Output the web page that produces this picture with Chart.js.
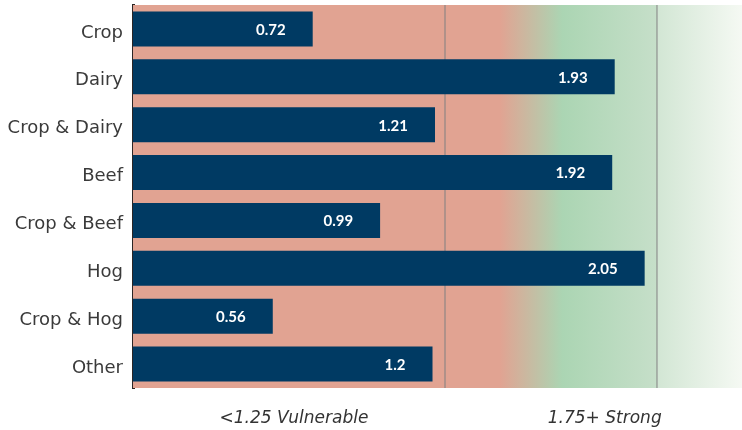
<!DOCTYPE html>
<html><head><meta charset="utf-8">
<script src="https://cdn.jsdelivr.net/npm/chart.js@4/dist/chart.umd.min.js"></script>
<style>html,body{margin:0;padding:0;background:#fff}#wrap{width:742px;height:430px;position:relative}</style>
</head><body><div id="wrap"><canvas id="c"></canvas></div>
<script>
const categories = ["Crop","Dairy","Crop & Dairy","Beef","Crop & Beef","Hog","Crop & Hog","Other"];
const values = [0.72,1.93,1.21,1.92,0.99,2.05,0.56,1.2];
const zoneLabels = ["<1.25 Vulnerable","1.75+ Strong"];
const thresholds = [1.25, 2.1];

const zoneLabelAt = [0.645, 1.89];

const bgPlugin = {
  id: 'bg',
  beforeDatasetsDraw(chart) {
    const {ctx, chartArea: a, scales: {x}} = chart;
    const px = v => x.getPixelForValue(v);
    ctx.save();
    const x2 = px(thresholds[1]);
    const w = x2 - a.left;
    const stop = v => (px(v) - a.left) / w;
    const g = ctx.createLinearGradient(a.left, 0, x2, 0);
    g.addColorStop(0, '#e1a392');
    g.addColorStop(stop(1.47), '#e1a392');
    g.addColorStop(stop(1.72), '#abd5b3');
    g.addColorStop(1, '#c6dfc9');
    ctx.fillStyle = g;
    ctx.fillRect(a.left, a.top, w, a.bottom - a.top);
    const g2 = ctx.createLinearGradient(x2, 0, a.right, 0);
    g2.addColorStop(0, '#d2e6d4');
    g2.addColorStop(1, '#f5f9f3');
    ctx.fillStyle = g2;
    ctx.fillRect(x2, a.top, a.right - x2, a.bottom - a.top);
    ctx.lineWidth = 2;
    ctx.strokeStyle = 'rgba(128,128,128,0.5)';
    thresholds.forEach(t => {
      const xx = Math.round(px(t));
      ctx.beginPath(); ctx.moveTo(xx, a.top); ctx.lineTo(xx, a.bottom); ctx.stroke();
    });
    ctx.restore();
  },
  afterDatasetsDraw(chart) {
    const {ctx} = chart;
    const meta = chart.getDatasetMeta(0);
    ctx.save();
    ctx.fillStyle = '#ffffff';
    ctx.font = 'bold 15px Lato';
    ctx.textAlign = 'right';
    ctx.textBaseline = 'middle';
    meta.data.forEach((bar, i) => {
      ctx.fillText(String(values[i]), bar.x - 27, bar.y + 1);
    });
    ctx.restore();
  }
};

new Chart(document.getElementById('c'), {
  type: 'bar',
  data: {
    labels: categories,
    datasets: [{
      data: values,
      backgroundColor: '#003a63',
      borderWidth: 0,
      barPercentage: 1,
      categoryPercentage: 0.73
    }]
  },
  options: {
    indexAxis: 'y',
    responsive: true,
    maintainAspectRatio: false,
    animation: false,
    layout: {padding: {top: 5, right: 0, left: 0, bottom: 0}},
    plugins: {legend: {display: false}, tooltip: {enabled: false}},
    scales: {
      x: {
        min: 0, max: 2.44,
        grid: {display: false, drawTicks: false},
        border: {display: false},
        afterBuildTicks(axis) { axis.ticks = zoneLabelAt.map(v => ({value: v})); },
        afterFit(axis) { axis.height = 42; axis.paddingLeft = 0; axis.paddingRight = 0; },
        ticks: {
          autoSkip: false, maxRotation: 0, padding: 20,
          color: '#333333',
          font: {family: 'DejaVu Sans', size: 17, style: 'italic'},
          callback: (v, i) => zoneLabels[i]
        }
      },
      y: {
        grid: {display: false, drawTicks: false},
        border: {display: true, color: '#2b2525', width: 3},
        afterFit(axis) { axis.width = 133; axis.paddingTop = 0; axis.paddingBottom = 0; },
        ticks: {
          padding: 10,
          labelOffset: 4,
          color: '#3a3a3a',
          font: {family: 'DejaVu Sans', size: 18}
        }
      }
    }
  },
  plugins: [bgPlugin]
});
</script>
</body></html>
